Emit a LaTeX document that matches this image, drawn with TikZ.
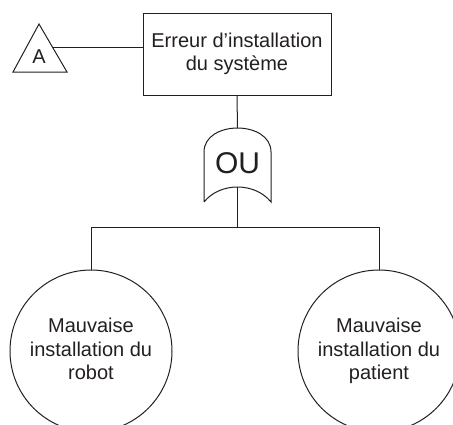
\documentclass[tikz,border=0pt]{standalone}
\usepackage{fontspec}
\setmainfont{Liberation Sans}
\definecolor{ink}{HTML}{231F20}
\begin{document}
\begin{tikzpicture}[x=1pt,y=-1pt,
  lbl/.style={font=\fontsize{20}{23.5}\selectfont, text=ink, align=center, inner sep=0pt},
  eventbox/.style={draw=ink, line width=1pt, rectangle, minimum width=188pt, minimum height=82pt, lbl},
  basic/.style={draw=ink, line width=1pt, circle, minimum size=162pt, lbl},
  wire/.style={draw=ink, line width=1pt}
]
\useasboundingbox (0,0) rectangle (453,424);
% top event
\node[eventbox] (top) at (237,54) {Erreur d’installation\\du système};
% transfer triangle
\draw[wire] (39,24) -- (67,72) -- (13,72) -- cycle;
\node[lbl] (A) at (39,57) {A};
\coordinate (triR) at (52.4,47);
\draw[wire] (triR) -- (top.west |- triR);
% OR gate
\draw[wire] (204,202) -- (204,152) .. controls (204,136) and (221,128) .. (237.5,128)
  .. controls (254,128) and (271,136) .. (271,152) -- (271,202)
  .. controls (255,182) and (220,182) .. (204,202);
\coordinate (gtop) at (237.5,128);
\coordinate (gbot) at (237.5,187);
\node[lbl, font=\fontsize{30}{32}\selectfont] (ou) at (237.5,163) {OU};
\draw[wire] (top.south) -- (gtop);
% basic events
\node[basic] (b1) at (91,351) {Mauvaise\\installation du\\robot\vphantom{p}};
\node[basic] (b2) at (379,351) {Mauvaise\\installation du\\patient};
\coordinate (bar) at (237.5,227);
\draw[wire] (gbot) -- (bar);
\draw[wire] (b1.north) -- (b1.north |- bar) -- (b2.north |- bar) -- (b2.north);
\end{tikzpicture}
\end{document}
